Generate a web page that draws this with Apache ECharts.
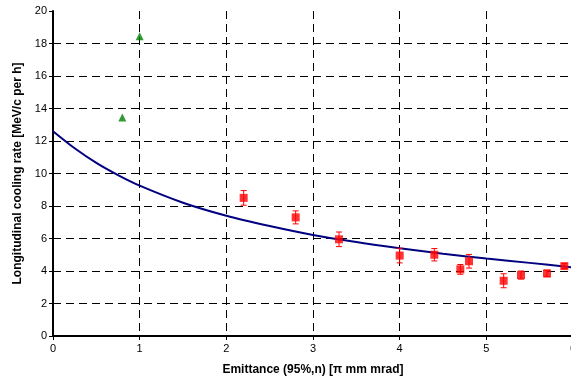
<!DOCTYPE html>
<html><head><meta charset="utf-8">
<script src="https://cdn.jsdelivr.net/npm/echarts@6/dist/echarts.min.js"></script>
<style>html,body{margin:0;padding:0;background:#fff}#c{width:571px;height:383px}</style>
</head><body><div id="c"></div>
<script>
// Green triangles
const triX = [0.8, 1.0];
const triY = [13.45, 18.45];
// Red squares with error bars
const sqX = [2.2, 2.8, 3.3, 4.0, 4.4, 4.7, 4.8, 5.2, 5.4, 5.7, 5.9];
const sqY = [8.5, 7.3, 5.95, 4.95, 5.0, 4.1, 4.6, 3.4, 3.75, 3.85, 4.3];
const sqErr = [0.45, 0.4, 0.45, 0.45, 0.38, 0.3, 0.42, 0.43, 0.25, 0.2, 0.15];
// Fit curve
const fitX = [0, 0.25, 0.5, 0.75, 1, 1.5, 2, 2.5, 3, 3.5, 4, 4.5, 5, 5.5, 6];
const fitY = [12.6, 11.55, 10.65, 9.9, 9.25, 8.2, 7.4, 6.77, 6.22, 5.78, 5.4, 5.06, 4.77, 4.5, 4.22];
const xTicks = [0, 1, 2, 3, 4, 5, 6];
const yTicks = [0, 2, 4, 6, 8, 10, 12, 14, 16, 18, 20];

const chart = echarts.init(document.getElementById('c'), null, {renderer: 'canvas'});
const font = 'Liberation Sans, Arial, sans-serif';
chart.setOption({
  animation: false,
  grid: {left: 53, top: 11, width: 520, height: 325, containLabel: false, outerBoundsMode: 'none'},
  xAxis: {
    type: 'value', min: 0, max: 6, interval: 1,
    name: 'Emittance (95%,n) [π mm mrad]', nameLocation: 'middle', nameGap: 28,
    nameTextStyle: {fontFamily: font, fontSize: 12, fontWeight: 'bold', color: '#000'},
    axisLine: {show: true, onZero: false, lineStyle: {color: '#000', width: 2}},
    axisTick: {show: true, length: 4, lineStyle: {color: '#000'}},
    axisLabel: {fontFamily: font, fontSize: 11, color: '#000', margin: 7,
      formatter: v => xTicks.includes(v) ? String(v) : ''},
    splitLine: {show: true, lineStyle: {color: '#000', width: 1, type: [8, 5]}}
  },
  yAxis: {
    type: 'value', min: 0, max: 20, interval: 2,
    name: 'Longitudinal cooling rate [MeV/c per h]', nameLocation: 'middle', nameGap: 25,
    nameTextStyle: {fontFamily: font, fontSize: 12, fontWeight: 'bold', color: '#000'},
    axisLine: {show: true, lineStyle: {color: '#000', width: 2}},
    axisTick: {show: true, length: 4, lineStyle: {color: '#000'}},
    axisLabel: {fontFamily: font, fontSize: 11, color: '#000', margin: 6,
      formatter: v => yTicks.includes(v) ? String(v) : ''},
    splitLine: {show: true, lineStyle: {color: '#000', width: 1, type: [8, 5]}, showMaxLine: false}
  },
  series: [
    {type: 'line', data: fitX.map((x, i) => [x, fitY[i]]), smooth: 0.3, showSymbol: false,
     lineStyle: {color: '#000080', width: 2}, z: 3},
    {type: 'custom', z: 4,
     data: sqX.map((x, i) => [x, sqY[i], sqErr[i]]),
     renderItem: function (params, api) {
       const x = api.value(0), y = api.value(1), e = api.value(2);
       const hi = api.coord([x, y + e]), lo = api.coord([x, y - e]);
       const st = {stroke: '#ff0000', lineWidth: 1};
       return {type: 'group', children: [
         {type: 'line', shape: {x1: hi[0], y1: hi[1], x2: lo[0], y2: lo[1]}, style: st},
         {type: 'line', shape: {x1: hi[0] - 3, y1: hi[1], x2: hi[0] + 3, y2: hi[1]}, style: st},
         {type: 'line', shape: {x1: lo[0] - 3, y1: lo[1], x2: lo[0] + 3, y2: lo[1]}, style: st}
       ]};
     }},
    {type: 'scatter', data: sqX.map((x, i) => [x, sqY[i]]), symbol: 'rect', symbolSize: 8,
     itemStyle: {color: '#ff0000'}, z: 5},
    {type: 'scatter', data: triX.map((x, i) => [x, triY[i]]), symbol: 'triangle', symbolSize: 8,
     itemStyle: {color: '#008000'}, z: 5}
  ]
});
</script></body></html>
